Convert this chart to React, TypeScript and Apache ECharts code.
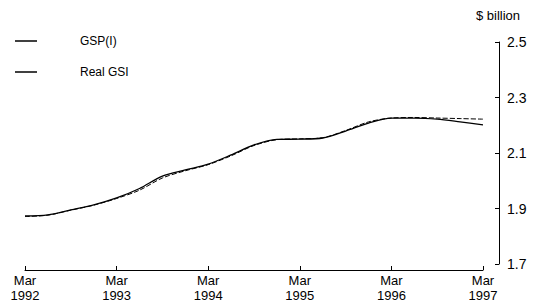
import React, { useEffect, useRef } from "react";
import * as echarts from "echarts";

const quarters = [
  "Mar 1992", "Jun 1992", "Sep 1992", "Dec 1992",
  "Mar 1993", "Jun 1993", "Sep 1993", "Dec 1993",
  "Mar 1994", "Jun 1994", "Sep 1994", "Dec 1994",
  "Mar 1995", "Jun 1995", "Sep 1995", "Dec 1995",
  "Mar 1996", "Jun 1996", "Sep 1996", "Dec 1996",
  "Mar 1997",
];
const gspI = [
  1.873, 1.877, 1.895, 1.913, 1.938, 1.972, 2.017, 2.039, 2.06, 2.093, 2.129,
  2.149, 2.15, 2.154, 2.179, 2.208, 2.226, 2.226, 2.222, 2.212, 2.201,
];
const realGSI = [
  1.871, 1.876, 1.894, 1.912, 1.936, 1.966, 2.01, 2.036, 2.058, 2.09, 2.127,
  2.148, 2.151, 2.155, 2.181, 2.212, 2.226, 2.228, 2.226, 2.224, 2.222,
];
const yTicks = [1.7, 1.9, 2.1, 2.3, 2.5];

export default function App() {
  const ref = useRef<HTMLDivElement>(null);
  useEffect(() => {
    if (!ref.current) return;
    const chart = echarts.init(ref.current, null, { renderer: "svg" });
    const font = "Liberation Sans, Arial, sans-serif";
    chart.setOption({
      animation: false,
      backgroundColor: "#ffffff",
      title: {
        text: "$ billion",
        left: 471,
        top: 4,
        textStyle: { fontSize: 13, fontWeight: "normal", color: "#000", fontFamily: font },
      },
      legend: {
        orient: "vertical",
        left: 10,
        top: 30,
        itemWidth: 22,
        itemHeight: 1.5,
        itemGap: 19,
        icon: "rect",
        textStyle: { fontSize: 12, color: "#000", fontFamily: font, padding: [0, 0, 0, 38] },
        data: [
          { name: "GSP(I)", itemStyle: { color: "#000" } },
          { name: "Real GSI", itemStyle: { color: "#000" } },
        ],
      },
      grid: { left: 25, right: 66, top: 42, bottom: 43 },
      xAxis: {
        type: "category",
        data: quarters,
        boundaryGap: false,
        offset: 6,
        axisLine: { lineStyle: { color: "#000", width: 1 } },
        axisTick: {
          inside: true,
          length: 4,
          interval: (i: number) => i % 4 === 0,
          lineStyle: { color: "#000" },
        },
        axisLabel: {
          interval: (i: number) => i % 4 === 0,
          formatter: (v: string) => v.replace(" ", "\n"),
          color: "#000",
          fontSize: 13,
          lineHeight: 15,
          fontFamily: font,
          margin: 3,
        },
        splitLine: { show: false },
      },
      yAxis: {
        type: "value",
        position: "right",
        min: 1.7,
        max: 2.5,
        interval: 0.2,
        offset: 16,
        axisLine: { show: true, lineStyle: { color: "#000", width: 1 } },
        axisTick: { show: true, inside: true, length: 4, lineStyle: { color: "#000" } },
        axisLabel: {
          color: "#000",
          fontSize: 14,
          fontFamily: font,
          margin: 8,
          formatter: (v: number) => (yTicks.some((t) => Math.abs(t - v) < 1e-6) ? v.toFixed(1) : ""),
        },
        splitLine: { show: false },
      },
      series: [
        {
          name: "GSP(I)",
          type: "line",
          data: gspI,
          symbol: "none",
          smooth: 0.3,
          lineStyle: { color: "#000", width: 1.3 },
          itemStyle: { color: "#000" },
        },
        {
          name: "Real GSI",
          type: "line",
          data: realGSI,
          symbol: "none",
          smooth: 0.3,
          lineStyle: { color: "#000", width: 1, type: [5, 2] },
          itemStyle: { color: "#000" },
        },
      ],
    });
    return () => chart.dispose();
  }, []);
  return <div ref={ref} style={{ width: 549, height: 307, position: "absolute", left: 0, top: 0 }} />;
}
